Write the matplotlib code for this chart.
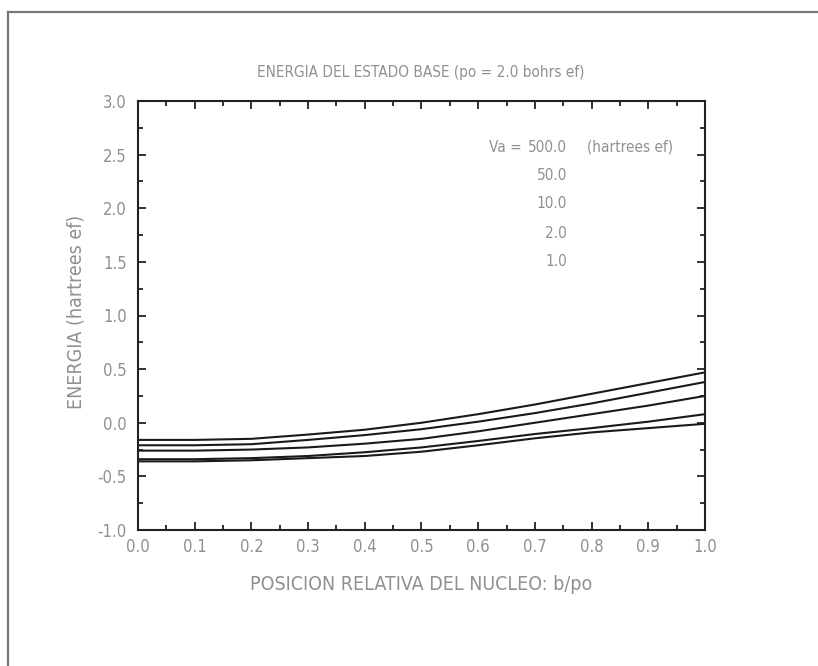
import matplotlib
matplotlib.use("Agg")
import matplotlib.pyplot as plt
from matplotlib.lines import Line2D
from matplotlib.ticker import MultipleLocator

x_pos = [0.0, 0.1, 0.2, 0.3, 0.4, 0.5, 0.6, 0.7, 0.8, 0.9, 1.0]
e_c1 = [-0.16, -0.16, -0.15, -0.11, -0.065, 0.0, 0.08, 0.17, 0.27, 0.37, 0.47]
e_c2 = [-0.21, -0.21, -0.20, -0.16, -0.115, -0.06, 0.01, 0.09, 0.18, 0.28, 0.38]
e_c3 = [-0.26, -0.26, -0.25, -0.23, -0.195, -0.15, -0.08, 0.0, 0.08, 0.16, 0.25]
e_c4 = [-0.34, -0.34, -0.33, -0.31, -0.275, -0.23, -0.17, -0.105, -0.05, 0.01, 0.08]
e_c5 = [-0.36, -0.36, -0.35, -0.33, -0.31, -0.27, -0.21, -0.145, -0.09, -0.05, -0.01]
curves = [e_c1, e_c2, e_c3, e_c4, e_c5]
va_labels = ["500.0", "50.0", "10.0", "2.0", "1.0"]

W, H = 818, 666
fig = plt.figure(figsize=(W / 100, H / 100), dpi=100)
fig.patch.set_facecolor("white")

FONT = dict(family="DejaVu Sans", stretch="condensed", weight="light")
GRAY = "#909090"

# page frame
fig.add_artist(Line2D([8 / W, 8 / W], [0, 1 - 12 / H], color="#777777", lw=1.6))
fig.add_artist(Line2D([8 / W, 1], [1 - 12 / H, 1 - 12 / H], color="#777777", lw=1.6))

L, R, T, B = 138, 705, 101, 530
ax = fig.add_axes([L / W, 1 - B / H, (R - L) / W, (B - T) / H])
for c in curves:
    ax.plot(x_pos, c, color="#1a1a1a", lw=1.5)

ax.set_xlim(0, 1)
ax.set_ylim(-1, 3)
ax.xaxis.set_major_locator(MultipleLocator(0.1))
ax.xaxis.set_minor_locator(MultipleLocator(0.05))
ax.yaxis.set_major_locator(MultipleLocator(0.5))
ax.yaxis.set_minor_locator(MultipleLocator(0.25))
ax.tick_params(which="both", direction="in", top=True, right=True, color="#222222", width=1.3)
ax.tick_params(which="major", length=6)
ax.tick_params(which="minor", length=3.5)
ax.tick_params(axis="x", pad=6)
ax.tick_params(axis="y", pad=8)
for s in ax.spines.values():
    s.set_linewidth(1.5)
    s.set_color("#222222")

ax.set_xticks([i / 10 for i in range(11)])
ax.set_xticklabels([f"{i/10:.1f}" for i in range(11)], color=GRAY, fontsize=12, **FONT)
yt = [-1.0, -0.5, 0.0, 0.5, 1.0, 1.5, 2.0, 2.5, 3.0]
ax.set_yticks(yt)
ax.set_yticklabels([f"{v:.1f}" for v in yt], color=GRAY, fontsize=12, **FONT)

fig.text(421 / W, 1 - 73 / H, "ENERGIA DEL ESTADO BASE (po = 2.0 bohrs ef)",
         ha="center", va="center", color=GRAY, fontsize=11, **FONT)
fig.text(421 / W, 1 - 585 / H, "POSICION RELATIVA DEL NUCLEO: b/po",
         ha="center", va="center", color=GRAY, fontsize=14, **FONT)
fig.text(76 / W, 1 - 312 / H, "ENERGIA (hartrees ef)", rotation=90,
         ha="center", va="center", color=GRAY, fontsize=14, **FONT)

# legend text block
fig.text(489 / W, 1 - 147 / H, "Va =", ha="left", va="center", color=GRAY, fontsize=11, **FONT)
fig.text(587 / W, 1 - 147 / H, "(hartrees ef)", ha="left", va="center", color=GRAY, fontsize=11, **FONT)
ys = [147, 175, 204, 233, 262]
for lab, yy in zip(va_labels, ys):
    fig.text(567 / W, 1 - yy / H, lab, ha="right", va="center", color=GRAY, fontsize=11, **FONT)

fig.savefig("out.png", dpi=100)
